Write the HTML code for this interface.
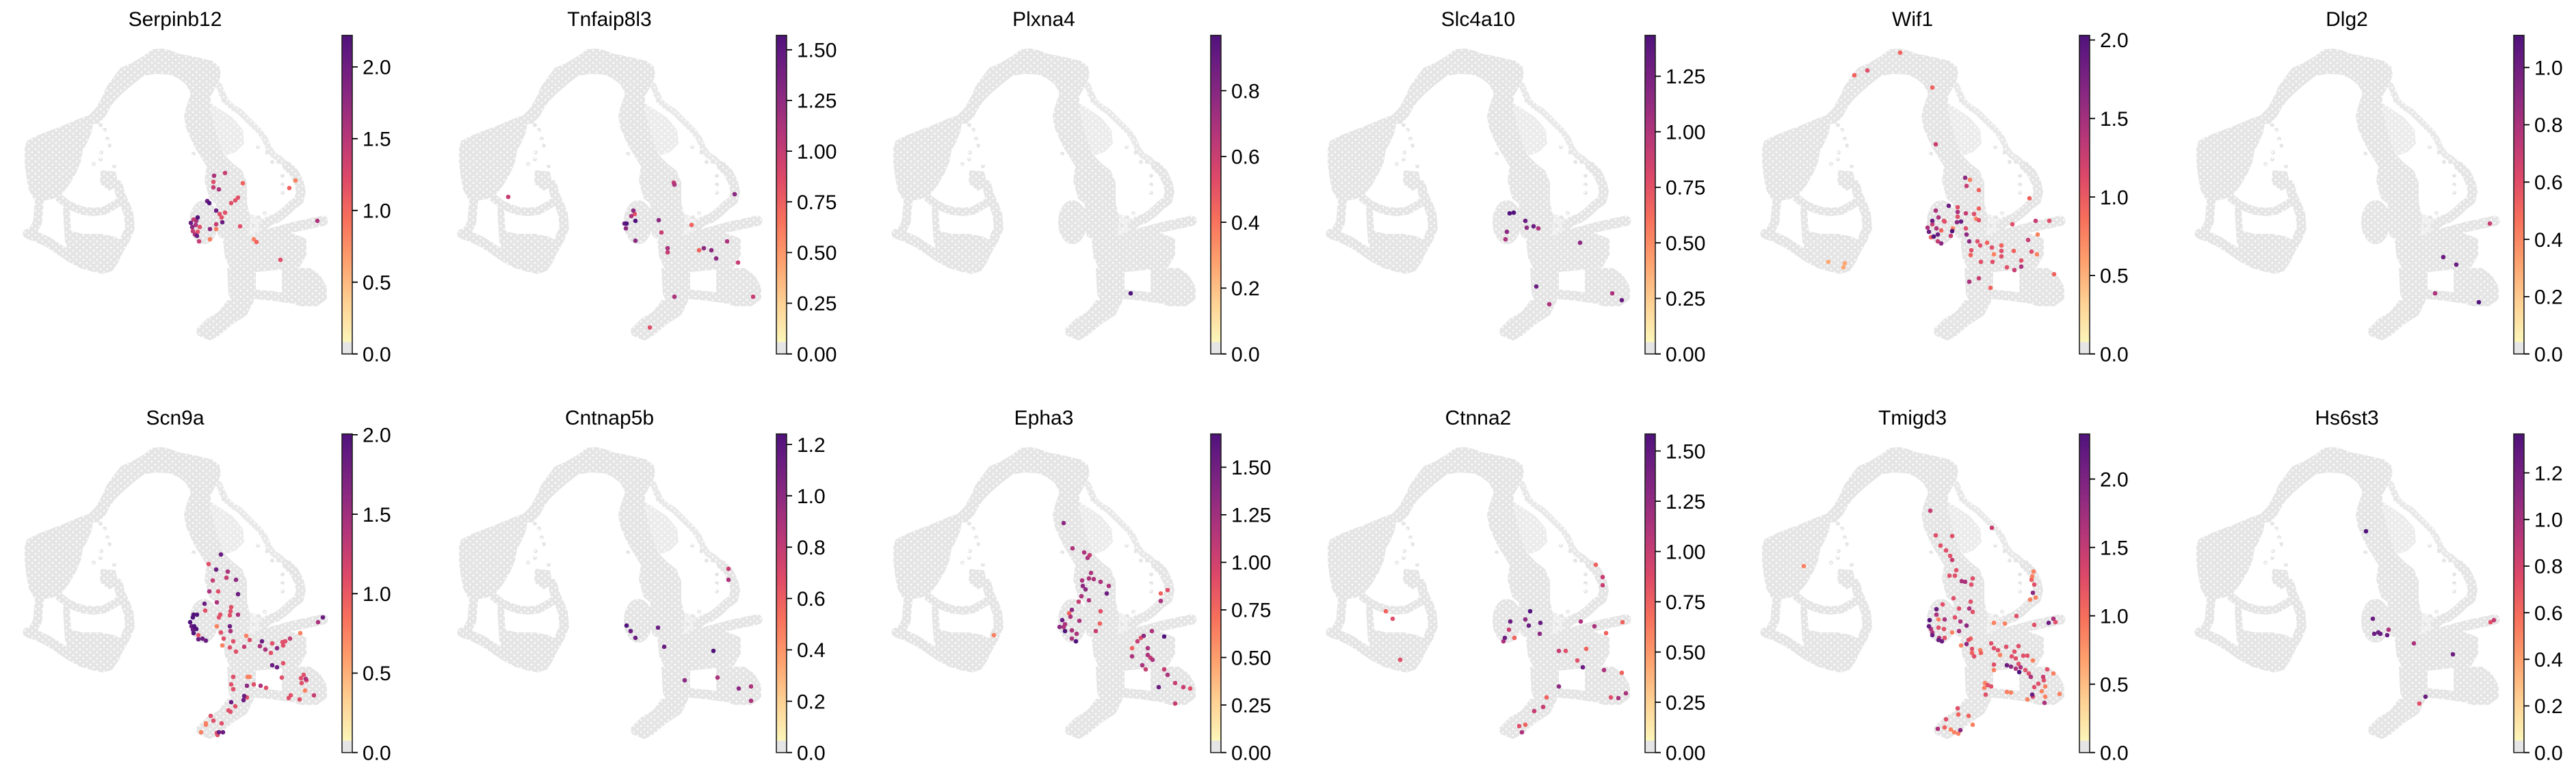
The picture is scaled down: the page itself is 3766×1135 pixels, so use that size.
<!DOCTYPE html>
<html><head><meta charset="utf-8">
<style>
html,body{margin:0;padding:0;background:#fff;}
svg{display:block;}
text{font-family:"Liberation Sans",Arial,Helvetica,sans-serif;fill:#000;}
.t{font-size:30px;text-anchor:middle;}
.l{font-size:30px;}
.tk{stroke:#000;stroke-width:1.8;fill:none;}
path.d{fill:none;stroke-width:6.6;stroke-linecap:round;}
.D{stroke:#51127c}.P{stroke:#6b1d81}.PM{stroke:#8c2981}.M{stroke:#ac337c}.MR{stroke:#c73e73}
.R{stroke:#e0506a}.OR{stroke:#f0625e}.O{stroke:#fa8161}.LO{stroke:#fea772}
</style></head>
<body>
<svg xmlns="http://www.w3.org/2000/svg" xmlns:xlink="http://www.w3.org/1999/xlink" width="3766" height="1135" viewBox="0 0 3766 1135">
<defs>
<linearGradient id="cm" x1="0" y1="0" x2="0" y2="1">
<stop offset="0" stop-color="#4f127b"/>
<stop offset="0.064" stop-color="#641a80"/>
<stop offset="0.193" stop-color="#8c2981"/>
<stop offset="0.321" stop-color="#b73779"/>
<stop offset="0.449" stop-color="#de4968"/>
<stop offset="0.578" stop-color="#f7705c"/>
<stop offset="0.706" stop-color="#fe9f6d"/>
<stop offset="0.835" stop-color="#fecf92"/>
<stop offset="0.9635" stop-color="#fcf6ba"/>
<stop offset="0.9635" stop-color="#e5e5e5"/>
<stop offset="1" stop-color="#e5e5e5"/>
</linearGradient>
<pattern id="holes" patternUnits="userSpaceOnUse" width="10" height="9">
<circle cx="2" cy="2" r="1.3" fill="#fff"/>
<circle cx="7" cy="6.5" r="1.3" fill="#fff"/>
</pattern>
<g id="cloud">
<g fill="#e5e5e5" stroke="#e5e5e5" stroke-width="2" stroke-linejoin="round">
<polygon points="37,217 40,207 53,200 70,193 87,187 103,180 120,173 130,170 135,180 133,193 127,207 120,220 117,237 110,253 100,270 90,283 77,290 60,293 50,290 43,277 40,260 37,240"/>
<polygon points="130,170 140,160 150,143 157,127 167,113 177,100 193,93 210,83 223,73 237,72 250,75 263,80 280,83 297,87 310,90 320,98 322,110 317,123 307,140 307,160 313,187 320,210 327,227 340,240 353,250 360,267 360,300 343,303 320,300 307,290 300,265 303,243 293,227 283,210 273,187 270,170 273,157 280,137 273,123 260,113 247,108 227,107 210,110 193,123 177,137 167,147 160,157 153,170 143,180 135,180"/>
<ellipse cx="298" cy="325" rx="20" ry="31"/>
<polygon points="318,295 360,295 365,320 362,350 340,357 320,345 312,320"/>
<polygon points="327,353 353,347 380,343 403,340 430,343 447,350 447,373 437,390 413,393 373,397 340,397 330,377"/>
<polygon points="413,393 453,393 467,403 477,420 477,437 463,447 437,447 420,437 413,427"/>
<polygon points="333,393 373,393 373,430 365,450 345,450 335,430"/>
<polygon points="370,440 360,460 340,473 320,490 307,497 290,490 287,483 303,467 320,457 333,440"/>
<polygon points="97,337 120,343 147,343 167,347 177,353 167,380 153,392 120,385 100,373 97,353"/>
<polygon points="148,250 168,252 172,270 160,278 147,268"/>
</g>
<polygon fill="#e5e5e5" opacity="0.75" points="307,150 322,160 340,172 355,190 357,210 345,222 330,228 320,210 313,187"/>
<polygon fill="#e5e5e5" opacity="0.6" points="360,310 390,322 388,345 365,350"/>
<g fill="none" stroke="#e5e5e5" stroke-linecap="round" stroke-linejoin="round">
<polyline stroke-width="15" points="378,346 430,332 472,323"/>
<polyline stroke-width="14" points="370,430 400,433 427,437"/>
<polyline stroke-width="13" points="58,290 56,310 55,325 48,338 41,342"/>
<polyline stroke-width="15" points="41,342 53,346 70,354 87,365 103,376 120,385 137,390 150,393 160,390"/>
<polyline stroke-width="14" points="160,390 167,380 173,367 183,350 190,333 188,313 183,300 177,287 172,270"/>
<polyline stroke-width="12" points="87,290 100,300 120,308 137,310 153,308 167,300 177,293"/>
<polyline stroke-width="10" points="97,307 100,353"/>
<polyline stroke-width="9" opacity="0.85" points="320,125 330,148 340,157 350,163 360,173 370,183 380,193 387,203 393,217 400,227 410,233 420,243"/>
<polyline stroke-width="14" points="420,243 430,253 437,267 440,280 437,293 427,300 420,307 413,313 403,320 393,323 385,330"/>
<path stroke-width="6" d="M283 225h0M377 215h0M390 223h0M398 237h0M407 237h0M413 257h0M413 270h0M413 282h0M387 312h0M378 318h0M147 183h0M153 190h0M157 203h0M160 213h0M148 223h0M147 233h0M137 240h0M167 243h0M323 138h0M327 148h0M360 323h0M370 330h0"/>
</g>
<rect x="25" y="60" width="460" height="445" fill="url(#holes)"/>
</g>
<rect id="cb" x="500" y="51.7" width="15" height="466" fill="url(#cm)" stroke="#1e1e1e" stroke-width="1.6"/>
</defs>
<rect x="0" y="0" width="3766" height="1135" fill="#fff"/>

<!-- Panel 1 Serpinb12 -->
<g transform="translate(0,0)">
<use xlink:href="#cloud" href="#cloud"/>
<path class="d O" d="M432 264h0M307 350h0M316 335h0M371 350h0"/>
<path class="d OR" d="M355 268h0M423 275h0M375 354h0"/>
<path class="d R" d="M312 266h0M329 311h0M338 297h0M344 293h0M348 289h0M292 332h0M289 339h0M321 313h0M324 318h0M351 331h0M410 380h0"/>
<path class="d MR" d="M329 253h0M312 274h0M283 321h0M282 338h0M291 353h0M316 328h0"/>
<path class="d M" d="M313 257h0M320 277h0M287 323h0M286 329h0M285 343h0M464 323h0"/>
<path class="d PM" d="M281 332h0M307 335h0"/>
<path class="d P" d="M303 294h0M316 308h0M279 326h0M288 345h0M325 325h0"/>
<path class="d D" d="M306 297h0M289 318h0"/>
<text class="t" x="256" y="38">Serpinb12</text>
<use xlink:href="#cb" href="#cb"/>
<path class="tk" d="M515 517.7h8M515 412.7h8M515 307.8h8M515 202.8h8M515 97.9h8"/>
<text class="l" x="530" y="528.4">0.0</text><text class="l" x="530" y="423.4">0.5</text><text class="l" x="530" y="318.5">1.0</text><text class="l" x="530" y="213.5">1.5</text><text class="l" x="530" y="108.6">2.0</text>
</g>

<!-- Panel 2 Tnfaip8l3 -->
<g transform="translate(635,0)">
<use xlink:href="#cloud" href="#cloud"/>
<path class="d OR" d="M376 329h0M387 366h0"/>
<path class="d R" d="M293 313h0M315 479h0"/>
<path class="d MR" d="M108 288h0M350 267h0M332 340h0M341 369h0M444 384h0M466 434h0"/>
<path class="d M" d="M288 316h0M351 270h0M341 363h0M428 353h0M351 434h0"/>
<path class="d PM" d="M291 308h0M280 334h0M294 352h0M328 322h0M394 363h0M405 366h0M412 378h0M439 284h0"/>
<path class="d P" d="M278 327h0"/>
<path class="d D" d="M281 327h0M294 323h0"/>
<text class="t" x="256" y="38">Tnfaip8l3</text>
<use xlink:href="#cb" href="#cb"/>
<path class="tk" d="M515 517.7h8M515 443.5h8M515 369.4h8M515 295.2h8M515 221.1h8M515 146.9h8M515 72.8h8"/>
<text class="l" x="530" y="528.4">0.00</text><text class="l" x="530" y="454.2">0.25</text><text class="l" x="530" y="380.1">0.50</text><text class="l" x="530" y="305.9">0.75</text><text class="l" x="530" y="231.8">1.00</text><text class="l" x="530" y="157.6">1.25</text><text class="l" x="530" y="83.5">1.50</text>
</g>

<!-- Panel 3 Plxna4 -->
<g transform="translate(1270,0)">
<use xlink:href="#cloud" href="#cloud"/>
<path class="d D" d="M383 429h0"/>
<text class="t" x="256" y="38">Plxna4</text>
<use xlink:href="#cb" href="#cb"/>
<path class="tk" d="M515 517.7h8M515 421.4h8M515 325.1h8M515 228.9h8M515 132.6h8"/>
<text class="l" x="530" y="528.4">0.0</text><text class="l" x="530" y="432.1">0.2</text><text class="l" x="530" y="335.8">0.4</text><text class="l" x="530" y="239.6">0.6</text><text class="l" x="530" y="143.3">0.8</text>
</g>

<!-- Panel 4 Slc4a10 -->
<g transform="translate(1905,0)">
<use xlink:href="#cloud" href="#cloud"/>
<path class="d M" d="M344 334h0M296 350h0M360 445h0M452 429h0"/>
<path class="d PM" d="M298 339h0M327 333h0M405 355h0"/>
<path class="d P" d="M325 323h0M337 331h0M341 419h0M466 439h0"/>
<path class="d D" d="M302 312h0M308 311h0"/>
<text class="t" x="256" y="38">Slc4a10</text>
<use xlink:href="#cb" href="#cb"/>
<path class="tk" d="M515 517.7h8M515 436.5h8M515 355.2h8M515 274h8M515 192.7h8M515 111.5h8"/>
<text class="l" x="530" y="528.4">0.00</text><text class="l" x="530" y="447.2">0.25</text><text class="l" x="530" y="365.9">0.50</text><text class="l" x="530" y="284.7">0.75</text><text class="l" x="530" y="203.4">1.00</text><text class="l" x="530" y="122.2">1.25</text>
</g>

<!-- Panel 5 Wif1 -->
<g transform="translate(2540,0)">
<use xlink:href="#cloud" href="#cloud"/>
<path class="d LO" d="M133 383h0M157 385h0M155 391h0"/>
<path class="d O" d="M340 263h0M349 320h0M315 334h0M375 372h0M439 343h0M438 372h0"/>
<path class="d OR" d="M238 77h0M171 110h0M285 128h0M353 278h0M427 290h0M353 305h0M298 337h0M283 347h0M365 355h0M341 373h0M386 359h0M404 367h0M463 401h0M370 421h0"/>
<path class="d R" d="M190 103h0M322 303h0M346 313h0M302 323h0M322 317h0M303 324h0M353 322h0M334 334h0M351 353h0M355 359h0M342 366h0M372 362h0M386 367h0M386 375h0M402 328h0M456 323h0M430 368h0M356 383h0M373 383h0M415 381h0M394 391h0"/>
<path class="d MR" d="M290 211h0M335 272h0M334 312h0M285 328h0M312 345h0M293 353h0M436 323h0M425 351h0M405 395h0M353 407h0"/>
<path class="d M" d="M290 308h0M322 310h0M294 318h0M278 333h0M291 334h0M415 390h0M339 412h0"/>
<path class="d PM" d="M333 260h0M321 325h0M335 343h0M298 356h0M339 353h0"/>
<path class="d P" d="M309 301h0M285 323h0M327 324h0M280 339h0M293 343h0"/>
<path class="d D" d="M314 338h0M287 346h0"/>
<text class="t" x="256" y="38">Wif1</text>
<use xlink:href="#cb" href="#cb"/>
<path class="tk" d="M515 517.7h8M515 402.9h8M515 288.1h8M515 173.3h8M515 58.5h8"/>
<text class="l" x="530" y="528.4">0.0</text><text class="l" x="530" y="413.6">0.5</text><text class="l" x="530" y="298.8">1.0</text><text class="l" x="530" y="184">1.5</text><text class="l" x="530" y="69.2">2.0</text>
</g>

<!-- Panel 6 Dlg2 -->
<g transform="translate(3175,0)">
<use xlink:href="#cloud" href="#cloud"/>
<path class="d MR" d="M465 327h0"/>
<path class="d M" d="M385 429h0"/>
<path class="d P" d="M397 376h0M416 387h0"/>
<path class="d D" d="M449 442h0"/>
<text class="t" x="256" y="38">Dlg2</text>
<use xlink:href="#cb" href="#cb"/>
<path class="tk" d="M515 517.7h8M515 433.9h8M515 350.1h8M515 266.3h8M515 182.5h8M515 98.7h8"/>
<text class="l" x="530" y="528.4">0.0</text><text class="l" x="530" y="444.6">0.2</text><text class="l" x="530" y="360.8">0.4</text><text class="l" x="530" y="277">0.6</text><text class="l" x="530" y="193.2">0.8</text><text class="l" x="530" y="109.4">1.0</text>
</g>

<!-- Panel 7 Scn9a -->
<g transform="translate(0,583)">
<use xlink:href="#cloud" href="#cloud"/>
<path class="d O" d="M317 333h0M360 347h0M325 361h0M439 343h0M446 427h0M362 407h0M365 407h0M301 475h0M301 477h0M294 488h0"/>
<path class="d R" d="M305 242h0M319 282h0M300 310h0M338 305h0M337 311h0M322 316h0M336 317h0M320 320h0M290 346h0M323 342h0M365 353h0M327 351h0M341 355h0M336 364h0M345 370h0M396 372h0M398 358h0M413 356h0M417 355h0M414 361h0M414 387h0M412 408h0M440 409h0M444 404h0M441 416h0M448 412h0M425 434h0M422 438h0M438 440h0M389 423h0M371 418h0M361 437h0M338 418h0M341 425h0M341 407h0M344 450h0M334 456h0M337 458h0M308 464h0M312 471h0M324 475h0M317 489h0M318 492h0"/>
<path class="d MR" d="M331 262h0M311 266h0M357 363h0M424 351h0M459 434h0"/>
<path class="d M" d="M333 253h0M306 282h0M317 298h0M348 316h0M337 340h0M380 362h0M388 367h0M465 327h0M447 410h0M381 420h0"/>
<path class="d PM" d="M345 265h0M405 365h0M361 420h0"/>
<path class="d P" d="M323 228h0M316 250h0M348 286h0M299 300h0M280 333h0M282 338h0M290 352h0M296 351h0M301 354h0M336 333h0M383 355h0M472 320h0M398 390h0M405 393h0M357 435h0M356 441h0M338 444h0M320 488h0M326 488h0"/>
<path class="d D" d="M288 316h0M283 316h0M282 320h0M278 327h0M284 333h0M287 337h0M283 343h0"/>
<text class="t" x="256" y="38">Scn9a</text>
<use xlink:href="#cb" href="#cb"/>
<path class="tk" d="M515 517.7h8M515 401.5h8M515 285.3h8M515 169.1h8M515 52.9h8"/>
<text class="l" x="530" y="528.4">0.0</text><text class="l" x="530" y="412.2">0.5</text><text class="l" x="530" y="296">1.0</text><text class="l" x="530" y="179.8">1.5</text><text class="l" x="530" y="63.6">2.0</text>
</g>

<!-- Panel 8 Cntnap5b -->
<g transform="translate(635,583)">
<use xlink:href="#cloud" href="#cloud"/>
<path class="d MR" d="M430 249h0"/>
<path class="d M" d="M430 265h0M414 408h0M463 421h0M463 442h0"/>
<path class="d PM" d="M366 412h0M445 424h0"/>
<path class="d P" d="M287 340h0M294 350h0M327 335h0M336 363h0"/>
<path class="d D" d="M281 332h0M408 369h0"/>
<text class="t" x="256" y="38">Cntnap5b</text>
<use xlink:href="#cb" href="#cb"/>
<path class="tk" d="M515 517.7h8M515 442.6h8M515 367.5h8M515 292.4h8M515 217.3h8M515 142.2h8M515 67.1h8"/>
<text class="l" x="530" y="528.4">0.0</text><text class="l" x="530" y="453.3">0.2</text><text class="l" x="530" y="378.2">0.4</text><text class="l" x="530" y="303.1">0.6</text><text class="l" x="530" y="228">0.8</text><text class="l" x="530" y="152.9">1.0</text><text class="l" x="530" y="77.8">1.2</text>
</g>

<!-- Panel 9 Epha3 -->
<g transform="translate(1270,583)">
<use xlink:href="#cloud" href="#cloud"/>
<path class="d O" d="M183 346h0"/>
<path class="d OR" d="M293 314h0M338 329h0M427 285h0M385 365h0"/>
<path class="d R" d="M339 311h0M398 350h0M437 280h0M470 424h0"/>
<path class="d MR" d="M323 229h0M307 297h0M332 340h0M393 355h0M412 379h0M405 396h0M432 396h0M448 416h0M460 422h0M448 446h0"/>
<path class="d M" d="M298 219h0M315 225h0M320 233h0M325 255h0M312 266h0M322 263h0M329 264h0M339 268h0M351 274h0M311 289h0M322 295h0M295 319h0M287 330h0M308 325h0M285 334h0M297 339h0M304 344h0M297 351h0M414 340h0M427 296h0M408 365h0M385 377h0M408 375h0M415 382h0M400 390h0M437 404h0"/>
<path class="d PM" d="M285 182h0M313 274h0M317 279h0M297 309h0M279 334h0M402 347h0"/>
<path class="d P" d="M348 285h0M283 324h0M424 422h0"/>
<path class="d D" d="M287 340h0M303 355h0M432 348h0"/>
<text class="t" x="256" y="38">Epha3</text>
<use xlink:href="#cb" href="#cb"/>
<path class="tk" d="M515 517.7h8M515 448.1h8M515 378.6h8M515 309h8M515 239.5h8M515 169.9h8M515 100.4h8"/>
<text class="l" x="530" y="528.4">0.00</text><text class="l" x="530" y="458.8">0.25</text><text class="l" x="530" y="389.3">0.50</text><text class="l" x="530" y="319.7">0.75</text><text class="l" x="530" y="250.2">1.00</text><text class="l" x="530" y="180.6">1.25</text><text class="l" x="530" y="111.1">1.50</text>
</g>

<!-- Panel 10 Ctnna2 -->
<g transform="translate(1905,583)">
<use xlink:href="#cloud" href="#cloud"/>
<path class="d OR" d="M121 311h0M428 243h0M309 350h0M467 327h0M443 343h0M414 366h0M466 401h0M356 437h0M325 477h0"/>
<path class="d R" d="M131 322h0M142 382h0M384 369h0M401 383h0M450 437h0M316 479h0"/>
<path class="d MR" d="M438 261h0M438 273h0M301 338h0M374 369h0M351 451h0M338 457h0"/>
<path class="d M" d="M293 355h0M406 326h0M426 333h0M440 397h0M461 438h0M472 431h0M320 488h0"/>
<path class="d PM" d="M325 323h0M346 344h0M374 421h0"/>
<path class="d P" d="M303 326h0M347 328h0M330 332h0M295 350h0M409 393h0"/>
<path class="d D" d="M332 311h0"/>
<text class="t" x="256" y="38">Ctnna2</text>
<use xlink:href="#cb" href="#cb"/>
<path class="tk" d="M515 517.7h8M515 444.2h8M515 370.7h8M515 297.2h8M515 223.6h8M515 150.1h8M515 76.6h8"/>
<text class="l" x="530" y="528.4">0.00</text><text class="l" x="530" y="454.9">0.25</text><text class="l" x="530" y="381.4">0.50</text><text class="l" x="530" y="307.9">0.75</text><text class="l" x="530" y="234.3">1.00</text><text class="l" x="530" y="160.8">1.25</text><text class="l" x="530" y="87.3">1.50</text>
</g>

<!-- Panel 11 Tmigd3 -->
<g transform="translate(2540,583)">
<use xlink:href="#cloud" href="#cloud"/>
<path class="d O" d="M97 245h0M433 253h0M431 260h0M436 291h0M428 294h0M294 323h0M314 342h0M327 361h0M375 328h0M391 329h0M355 368h0M384 375h0M432 383h0M375 397h0M462 402h0M450 421h0M445 428h0M471 432h0M362 416h0M361 423h0M394 429h0M400 430h0M424 440h0M450 436h0M344 477h0M312 484h0M317 488h0M323 490h0"/>
<path class="d OR" d="M430 265h0M341 351h0M343 372h0M356 372h0M323 462h0M338 464h0M303 481h0"/>
<path class="d R" d="M290 200h0M314 201h0M297 215h0M305 222h0M311 230h0M320 251h0M310 259h0M318 259h0M344 263h0M342 272h0M434 272h0M316 292h0M300 301h0M341 297h0M344 312h0M324 307h0M318 320h0M294 335h0M302 337h0M303 350h0M338 353h0M408 318h0M434 331h0M465 327h0M343 366h0M371 358h0M375 365h0M381 368h0M393 363h0M411 362h0M405 370h0M346 377h0M401 377h0M407 380h0M418 376h0M424 376h0M411 388h0M421 397h0M426 402h0M375 389h0M453 396h0M448 412h0M440 417h0M434 422h0M366 419h0M371 421h0M363 433h0M432 436h0M322 453h0M305 469h0"/>
<path class="d MR" d="M282 164h0M372 189h0M314 236h0M447 407h0"/>
<path class="d M" d="M328 267h0M333 268h0M339 307h0M291 316h0M303 323h0M326 326h0M283 337h0M324 340h0M285 342h0M295 350h0M462 322h0M414 393h0M407 395h0M429 407h0M449 445h0M293 483h0"/>
<path class="d PM" d="M432 284h0M335 332h0M335 359h0M400 392h0M326 485h0"/>
<path class="d P" d="M291 308h0M280 333h0M285 346h0M294 353h0M299 355h0M455 328h0M394 390h0M431 433h0"/>
<path class="d D" d="M281 324h0M412 400h0"/>
<text class="t" x="256" y="38">Tmigd3</text>
<use xlink:href="#cb" href="#cb"/>
<path class="tk" d="M515 517.7h8M515 417.7h8M515 317.7h8M515 217.7h8M515 117.7h8"/>
<text class="l" x="530" y="528.4">0.0</text><text class="l" x="530" y="428.4">0.5</text><text class="l" x="530" y="328.4">1.0</text><text class="l" x="530" y="228.4">1.5</text><text class="l" x="530" y="128.4">2.0</text>
</g>

<!-- Panel 12 Hs6st3 -->
<g transform="translate(3175,583)">
<use xlink:href="#cloud" href="#cloud"/>
<path class="d R" d="M362 446h0M466 327h0"/>
<path class="d MR" d="M471 324h0"/>
<path class="d M" d="M317 338h0M354 358h0"/>
<path class="d P" d="M294 322h0M296 344h0M302 342h0M305 344h0M315 346h0M411 374h0M371 436h0"/>
<path class="d D" d="M284 194h0"/>
<text class="t" x="256" y="38">Hs6st3</text>
<use xlink:href="#cb" href="#cb"/>
<path class="tk" d="M515 517.7h8M515 449.5h8M515 381.3h8M515 313.2h8M515 245h8M515 176.8h8M515 108.6h8"/>
<text class="l" x="530" y="528.4">0.0</text><text class="l" x="530" y="460.2">0.2</text><text class="l" x="530" y="392">0.4</text><text class="l" x="530" y="323.9">0.6</text><text class="l" x="530" y="255.7">0.8</text><text class="l" x="530" y="187.5">1.0</text><text class="l" x="530" y="119.3">1.2</text>
</g>
</svg>
</body></html>
